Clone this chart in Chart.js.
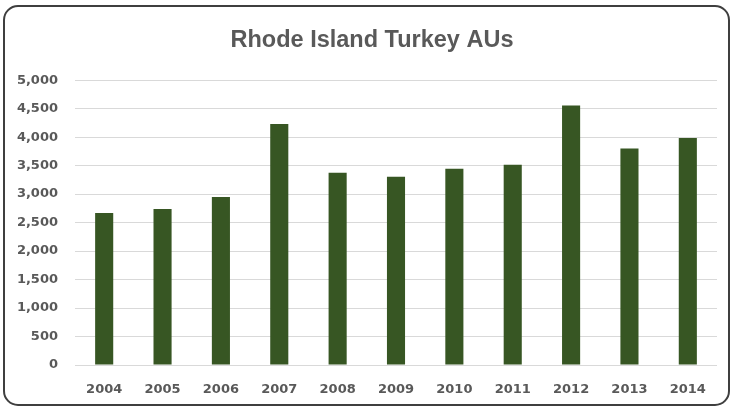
<!DOCTYPE html>
<html>
<head>
<meta charset="utf-8">
<style>
  html, body { margin: 0; padding: 0; background: #fff; }
  #wrap { width: 732px; height: 408px; }
</style>
<script src="https://cdn.jsdelivr.net/npm/chart.js@4/dist/chart.umd.min.js"></script>
</head>
<body>
<div id="wrap"><canvas id="turkeyChart" width="732" height="408"></canvas></div>
<script>
const years = ['2004', '2005', '2006', '2007', '2008', '2009', '2010', '2011', '2012', '2013', '2014'];
const turkeyAUs = [2670, 2740, 2950, 4230, 3375, 3305, 3445, 3515, 4555, 3800, 3985];
const chartTitle = 'Rhode Island Turkey AUs';

// rounded frame around the whole chart, like the Excel chart area border
const framePlugin = {
    id: 'frame',
    beforeDraw(chart) {
        const ctx = chart.ctx;
        ctx.save();
        ctx.fillStyle = '#ffffff';
        ctx.fillRect(0, 0, chart.width, chart.height);
        ctx.strokeStyle = '#3f3f3f';
        ctx.lineWidth = 2;
        ctx.beginPath();
        ctx.roundRect(4, 6, 725, 399, 14);
        ctx.stroke();
        ctx.restore();
    },
    afterLayout(chart) {
        // Excel centres the title on the frame, nudge it right a bit
        if (chart.titleBlock) chart.titleBlock.left += 17;
    }
};

const ctx = document.getElementById('turkeyChart').getContext('2d');
new Chart(ctx, {
    type: 'bar',
    data: {
        labels: years,
        datasets: [{
            label: 'Turkey AUs',
            data: turkeyAUs,
            backgroundColor: '#375623',
            borderWidth: 0,
            categoryPercentage: 1,
            barPercentage: 0.31
        }]
    },
    options: {
        responsive: false,
        animation: false,
        layout: { padding: { left: 10, right: 15, top: 0, bottom: 0 } },
        plugins: {
            legend: { display: false },
            tooltip: { enabled: false },
            title: {
                display: true,
                text: chartTitle,
                color: '#595959',
                font: { family: 'Liberation Sans', size: 23.5, weight: 'bold' },
                padding: { top: 26, bottom: 26 }
            }
        },
        scales: {
            x: {
                grid: { display: false },
                border: { display: false },
                ticks: {
                    color: '#595959',
                    font: { family: 'DejaVu Sans', size: 13, weight: 'bold' },
                    padding: 9,
                    maxRotation: 0
                },
                afterFit(scale) { scale.height = 43; }
            },
            y: {
                min: 0,
                max: 5000,
                border: { display: false },
                grid: { color: '#d9d9d9', lineWidth: 1, drawTicks: false },
                ticks: {
                    stepSize: 500,
                    color: '#595959',
                    font: { family: 'DejaVu Sans', size: 13, weight: 'bold' },
                    padding: 17,
                    callback: (v) => v.toLocaleString('en-US')
                },
                afterFit(scale) { scale.width = 65; }
            }
        }
    },
    plugins: [framePlugin]
});
</script>
</body>
</html>
